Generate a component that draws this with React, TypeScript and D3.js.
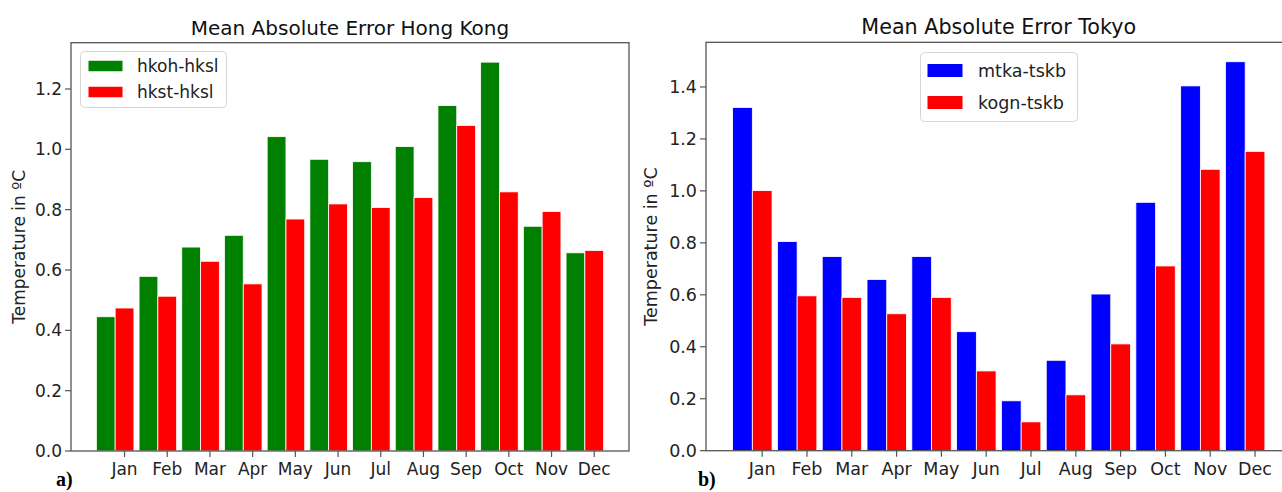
import React from "react";
import * as d3 from "d3";

const months = ["Jan", "Feb", "Mar", "Apr", "May", "Jun", "Jul", "Aug", "Sep", "Oct", "Nov", "Dec"];
const hkohHksl = [0.445, 0.579, 0.676, 0.715, 1.042, 0.967, 0.959, 1.009, 1.145, 1.289, 0.745, 0.657];
const hkstHksl = [0.474, 0.513, 0.629, 0.554, 0.769, 0.819, 0.807, 0.840, 1.079, 0.859, 0.794, 0.665];
const mtkaTskb = [1.321, 0.805, 0.747, 0.659, 0.747, 0.458, 0.192, 0.348, 0.603, 0.956, 1.404, 1.497];
const kognTskb = [1.001, 0.596, 0.590, 0.527, 0.590, 0.307, 0.111, 0.215, 0.411, 0.711, 1.083, 1.152];
const hkTicks = [0, 0.2, 0.4, 0.6, 0.8, 1.0, 1.2];
const tkTicks = [0, 0.2, 0.4, 0.6, 0.8, 1.0, 1.2, 1.4];

const FONT = "'DejaVu Sans', sans-serif";
const BW = 0.44;

type PanelProps = {
  title: string;
  names: [string, string];
  a: number[];
  b: number[];
  colors: [string, string];
  ticks: number[];
  left: number;
  right: number;
  top: number;
  bottom: number;
  fs: number;
  titleFs: number;
  ylabelX: number;
  legend: { x: number; y: number; w: number; h: number; px: number; pw: number; ph: number; rows: number[]; tx: number; fs: number };
  panelLabel: string;
  panelX: number;
  clipId: string;
};

function Panel(p: PanelProps) {
  const n = months.length;
  const lo = -BW / 2;
  const hi = n - 1 + BW + BW / 2;
  const m = (hi - lo) * 0.05;
  const x = d3.scaleLinear().domain([lo - m, hi + m]).range([p.left, p.right]);
  const maxV = d3.max([...p.a, ...p.b]) as number;
  const y = d3.scaleLinear().domain([0, maxV * 1.05]).range([p.bottom, p.top]);
  const bar = (c: number, v: number, col: string, key: string) => (
    <rect
      key={key}
      x={x(c - BW / 2)}
      width={x(c + BW / 2) - x(c - BW / 2)}
      y={y(v)}
      height={y(0) - y(v)}
      fill={col}
      stroke="#ffffff"
      strokeWidth={0.8}
    />
  );
  const lg = p.legend;
  return (
    <g>
      <defs>
        <clipPath id={p.clipId}>
          <rect x={p.left} y={p.top} width={p.right - p.left} height={p.bottom - p.top} />
        </clipPath>
      </defs>
      <g clipPath={`url(#${p.clipId})`}>
        {months.map((_, i) => bar(i, p.a[i], p.colors[0], "a" + i))}
        {months.map((_, i) => bar(i + BW, p.b[i], p.colors[1], "b" + i))}
      </g>
      <rect x={p.left} y={p.top} width={p.right - p.left} height={p.bottom - p.top} fill="none" stroke="#555" strokeWidth={1.3} />
      {p.ticks.map((t) => (
        <g key={"y" + t}>
          <line x1={p.left - 6} x2={p.left} y1={y(t)} y2={y(t)} stroke="#555" strokeWidth={1.2} />
          <text x={p.left - 9} y={y(t)} dy="0.36em" textAnchor="end" fontSize={p.fs} fontFamily={FONT} fill="#222">
            {t.toFixed(1)}
          </text>
        </g>
      ))}
      {months.map((mo, i) => (
        <g key={"x" + mo}>
          <line x1={x(i + BW)} x2={x(i + BW)} y1={p.bottom} y2={p.bottom + 6} stroke="#555" strokeWidth={1.2} />
          <text x={x(i + BW)} y={p.bottom + 24} textAnchor="middle" fontSize={p.fs} fontFamily={FONT} fill="#222">
            {mo}
          </text>
        </g>
      ))}
      <text x={(p.left + p.right) / 2} y={p.top - 8} textAnchor="middle" fontSize={p.titleFs} fontFamily={FONT} fill="#111">
        {p.title}
      </text>
      <text
        transform={`translate(${p.ylabelX},${(p.top + p.bottom) / 2}) rotate(-90)`}
        textAnchor="middle"
        dy="0.36em"
        fontSize={p.fs}
        fontFamily={FONT}
        fill="#222"
      >
        Temperature in ºC
      </text>
      <rect x={lg.x} y={lg.y} width={lg.w} height={lg.h} rx={4} fill="#fff" fillOpacity={0.8} stroke="#d6d6d6" strokeWidth={1} />
      {lg.rows.map((ry, k) => (
        <g key={"lg" + k}>
          <rect x={lg.px} y={ry - lg.ph / 2} width={lg.pw} height={lg.ph} fill={p.colors[k]} />
          <text x={lg.tx} y={ry} dy="0.36em" fontSize={lg.fs} fontFamily={FONT} fill="#222">
            {p.names[k]}
          </text>
        </g>
      ))}
      <text x={p.panelX} y={486} fontSize={20} fontWeight="bold" fontFamily="'Liberation Serif', 'Times New Roman', serif" fill="#000">
        {p.panelLabel}
      </text>
    </g>
  );
}

export default function App() {
  return (
    <svg width={1282} height={492} style={{ position: "absolute", left: 0, top: 0, background: "#fff" }}>
      <rect x={0} y={0} width={1282} height={492} fill="#fff" />
      <Panel
        title="Mean Absolute Error Hong Kong"
        names={["hkoh-hksl", "hkst-hksl"]}
        a={hkohHksl}
        b={hkstHksl}
        colors={["#008000", "#ff0000"]}
        ticks={hkTicks}
        left={71}
        right={629}
        top={42.7}
        bottom={451}
        fs={17}
        titleFs={20}
        ylabelX={19}
        legend={{ x: 80.5, y: 51.5, w: 146, h: 56, px: 88.5, pw: 34, ph: 10.5, rows: [66, 92], tx: 137, fs: 17 }}
        panelLabel="a)"
        panelX={56}
        clipId="clipA"
      />
      <Panel
        title="Mean Absolute Error Tokyo"
        names={["mtka-tskb", "kogn-tskb"]}
        a={mtkaTskb}
        b={kognTskb}
        colors={["#0000ff", "#ff0000"]}
        ticks={tkTicks}
        left={706}
        right={1291.5}
        top={42.3}
        bottom={450.7}
        fs={17.5}
        titleFs={20.7}
        ylabelX={651}
        legend={{ x: 920.5, y: 52.5, w: 157, h: 69, px: 927.5, pw: 35, ph: 13, rows: [70.5, 102.5], tx: 978, fs: 17.5 }}
        panelLabel="b)"
        panelX={698}
        clipId="clipB"
      />
    </svg>
  );
}
